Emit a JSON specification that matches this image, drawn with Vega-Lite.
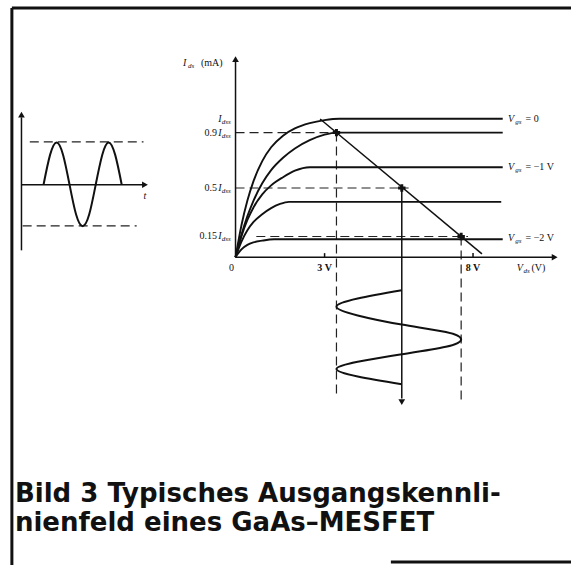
{
  "$schema": "https://vega.github.io/schema/vega-lite/v6.json",
  "description": "Output characteristics of a GaAs MESFET: I_ds over V_ds for several gate voltages, with load line, operating points, gate input signal and resulting drain voltage swing.",
  "width": 577,
  "height": 571,
  "autosize": {"type": "fit", "contains": "padding"},
  "padding": 0,
  "background": "#ffffff",
  "config": {"view": {"stroke": null}},
  "datasets": {
    "frame": [
      {"s": "top", "i": 0, "x": -7.533, "y": 1.8},
      {"s": "top", "i": 1, "x": 11.3, "y": 1.8},
      {"s": "left", "i": 0, "x": -7.533, "y": 1.8},
      {"s": "left", "i": 1, "x": -7.533, "y": -2.2214},
      {"s": "foot", "i": 0, "x": 5.233, "y": -2.2},
      {"s": "foot", "i": 1, "x": 11.3, "y": -2.2}
    ],
    "axes": [
      {"s": "t-axis-v", "i": 0, "x": -7.21, "y": 0.05},
      {"s": "t-axis-v", "i": 1, "x": -7.21, "y": 1.01},
      {"s": "t-axis-h", "i": 0, "x": -7.21, "y": 0.5236},
      {"s": "t-axis-h", "i": 1, "x": -3.1, "y": 0.5236},
      {"s": "id-axis", "i": 0, "x": 0, "y": 0},
      {"s": "id-axis", "i": 1, "x": 0, "y": 1.41},
      {"s": "vd-axis", "i": 0, "x": 0, "y": 0},
      {"s": "vd-axis", "i": 1, "x": 10.7, "y": 0},
      {"s": "tick3", "i": 0, "x": 3, "y": 0},
      {"s": "tick3", "i": 1, "x": 3, "y": 0.03},
      {"s": "tick8", "i": 0, "x": 8, "y": 0},
      {"s": "tick8", "i": 1, "x": 8, "y": 0.03},
      {"s": "load", "i": 0, "x": 2.85, "y": 0.998},
      {"s": "load", "i": 1, "x": 8.3, "y": 0.025},
      {"s": "bias", "i": 0, "x": 5.6, "y": 0.5},
      {"s": "bias", "i": 1, "x": 5.6, "y": -1.02}
    ],
    "arrows": [
      {"x": -7.21, "y": 1.03, "dir": "up"},
      {"x": -3.05, "y": 0.5236, "dir": "right"},
      {"x": 0, "y": 1.43, "dir": "up"},
      {"x": 10.75, "y": 0, "dir": "right"},
      {"x": 5.6, "y": -1.045, "dir": "down"}
    ],
    "characteristics": [
      {"s": "A", "x": 0, "y": 0}, {"s": "A", "x": 0.2, "y": 0.231}, {"s": "A", "x": 0.4, "y": 0.409},
      {"s": "A", "x": 0.6, "y": 0.546}, {"s": "A", "x": 0.9, "y": 0.694}, {"s": "A", "x": 1.2, "y": 0.794},
      {"s": "A", "x": 1.6, "y": 0.878}, {"s": "A", "x": 2.0, "y": 0.93}, {"s": "A", "x": 2.5, "y": 0.968},
      {"s": "A", "x": 3.0, "y": 0.99}, {"s": "A", "x": 3.5, "y": 1.0}, {"s": "A", "x": 9.0, "y": 1.0},
      {"s": "B", "x": 0, "y": 0}, {"s": "B", "x": 0.2, "y": 0.163}, {"s": "B", "x": 0.4, "y": 0.297},
      {"s": "B", "x": 0.6, "y": 0.406}, {"s": "B", "x": 0.9, "y": 0.534}, {"s": "B", "x": 1.2, "y": 0.629},
      {"s": "B", "x": 1.6, "y": 0.718}, {"s": "B", "x": 2.0, "y": 0.785}, {"s": "B", "x": 2.5, "y": 0.845},
      {"s": "B", "x": 3.0, "y": 0.885}, {"s": "B", "x": 3.4, "y": 0.9}, {"s": "B", "x": 9.0, "y": 0.9},
      {"s": "C", "x": 0, "y": 0}, {"s": "C", "x": 0.2, "y": 0.152}, {"s": "C", "x": 0.4, "y": 0.269},
      {"s": "C", "x": 0.6, "y": 0.358}, {"s": "C", "x": 0.9, "y": 0.454}, {"s": "C", "x": 1.2, "y": 0.519},
      {"s": "C", "x": 1.6, "y": 0.578}, {"s": "C", "x": 2.0, "y": 0.625}, {"s": "C", "x": 2.5, "y": 0.65},
      {"s": "C", "x": 9.0, "y": 0.65},
      {"s": "D", "x": 0, "y": 0}, {"s": "D", "x": 0.2, "y": 0.113}, {"s": "D", "x": 0.4, "y": 0.195},
      {"s": "D", "x": 0.6, "y": 0.253}, {"s": "D", "x": 0.9, "y": 0.311}, {"s": "D", "x": 1.2, "y": 0.355},
      {"s": "D", "x": 1.5, "y": 0.385}, {"s": "D", "x": 1.8, "y": 0.4}, {"s": "D", "x": 8.95, "y": 0.4},
      {"s": "E", "x": 0, "y": 0}, {"s": "E", "x": 0.1, "y": 0.032}, {"s": "E", "x": 0.2, "y": 0.057},
      {"s": "E", "x": 0.4, "y": 0.089}, {"s": "E", "x": 0.6, "y": 0.107}, {"s": "E", "x": 0.9, "y": 0.12},
      {"s": "E", "x": 1.3, "y": 0.13}, {"s": "E", "x": 9.0, "y": 0.13}
    ],
    "guides": [
      {"s": "g09", "i": 0, "x": 0, "y": 0.9}, {"s": "g09", "i": 1, "x": 3.4, "y": 0.9},
      {"s": "g05", "i": 0, "x": 0, "y": 0.5}, {"s": "g05", "i": 1, "x": 5.83, "y": 0.5},
      {"s": "g015", "i": 0, "x": 0.7, "y": 0.15}, {"s": "g015", "i": 1, "x": 7.83, "y": 0.15},
      {"s": "v1", "i": 0, "x": 3.4, "y": 0.9}, {"s": "v1", "i": 1, "x": 3.4, "y": -1.0},
      {"s": "v3", "i": 0, "x": 7.6, "y": 0.15}, {"s": "v3", "i": 1, "x": 7.6, "y": -1.04},
      {"s": "peak", "i": 0, "x": -6.93, "y": 0.8336}, {"s": "peak", "i": 1, "x": -3.1, "y": 0.8336},
      {"s": "trough", "i": 0, "x": -7.17, "y": 0.2264}, {"s": "trough", "i": 1, "x": -3.33, "y": 0.2264}
    ],
    "signals": [
      {"s": "in", "i": 1, "x": -6.467, "y": 0.5236},
      {"s": "in", "i": 2, "x": -6.247, "y": 0.739},
      {"s": "in", "i": 3, "x": -6.027, "y": 0.829},
      {"s": "in", "i": 4, "x": -5.808, "y": 0.739},
      {"s": "in", "i": 5, "x": -5.59, "y": 0.5236},
      {"s": "in", "i": 6, "x": -5.37, "y": 0.308},
      {"s": "in", "i": 7, "x": -5.15, "y": 0.224},
      {"s": "in", "i": 8, "x": -4.93, "y": 0.308},
      {"s": "in", "i": 9, "x": -4.71, "y": 0.5236},
      {"s": "in", "i": 10, "x": -4.49, "y": 0.739},
      {"s": "in", "i": 11, "x": -4.273, "y": 0.829},
      {"s": "in", "i": 12, "x": -4.053, "y": 0.739},
      {"s": "in", "i": 13, "x": -3.833, "y": 0.5236},
      {"s": "out", "i": 1, "x": 5.6, "y": -0.238},
      {"s": "out", "i": 2, "x": 4.115, "y": -0.298},
      {"s": "out", "i": 3, "x": 3.4, "y": -0.357},
      {"s": "out", "i": 4, "x": 4.115, "y": -0.42},
      {"s": "out", "i": 5, "x": 5.6, "y": -0.486},
      {"s": "out", "i": 6, "x": 7.085, "y": -0.54},
      {"s": "out", "i": 7, "x": 7.6, "y": -0.593},
      {"s": "out", "i": 8, "x": 7.085, "y": -0.646},
      {"s": "out", "i": 9, "x": 5.6, "y": -0.7},
      {"s": "out", "i": 10, "x": 4.115, "y": -0.754},
      {"s": "out", "i": 11, "x": 3.4, "y": -0.807},
      {"s": "out", "i": 12, "x": 4.115, "y": -0.861},
      {"s": "out", "i": 13, "x": 5.6, "y": -0.916}
    ],
    "operating": [
      {"x": 3.4, "y": 0.9},
      {"x": 5.6, "y": 0.5},
      {"x": 7.6, "y": 0.15}
    ],
    "numbers": [
      {"x": -0.62, "y": 0.9, "text": "0.9"},
      {"x": -0.62, "y": 0.5, "text": "0.5"},
      {"x": -0.62, "y": 0.15, "text": "0.15"},
      {"x": -0.05, "y": -0.075, "text": "0"}
    ],
    "symbols": [
      {"x": -0.58, "y": 1.0, "text": "I"},
      {"x": -0.58, "y": 0.9, "text": "I"},
      {"x": -0.58, "y": 0.5, "text": "I"},
      {"x": -0.58, "y": 0.15, "text": "I"},
      {"x": -1.767, "y": 1.405, "text": "I"},
      {"x": 9.18, "y": 1.0, "text": "V"},
      {"x": 9.18, "y": 0.65, "text": "V"},
      {"x": 9.18, "y": 0.14, "text": "V"},
      {"x": 9.47, "y": -0.075, "text": "V"},
      {"x": -3.1, "y": 0.443, "text": "t"}
    ],
    "subs": [
      {"x": -0.46, "y": 1.0, "text": "dss"},
      {"x": -0.46, "y": 0.9, "text": "dss"},
      {"x": -0.46, "y": 0.5, "text": "dss"},
      {"x": -0.46, "y": 0.15, "text": "dss"},
      {"x": -1.6, "y": 1.405, "text": "ds"},
      {"x": 9.42, "y": 1.0, "text": "gs"},
      {"x": 9.42, "y": 0.65, "text": "gs"},
      {"x": 9.42, "y": 0.14, "text": "gs"},
      {"x": 9.7, "y": -0.075, "text": "ds"}
    ],
    "plain": [
      {"x": 9.77, "y": 1.0, "text": "= 0"},
      {"x": 9.77, "y": 0.65, "text": "= −1 V"},
      {"x": 9.77, "y": 0.14, "text": "= −2 V"},
      {"x": -1.167, "y": 1.405, "text": "(mA)"},
      {"x": 9.97, "y": -0.075, "text": "(V)"}
    ],
    "ticks": [
      {"x": 3, "y": -0.075, "text": "3 V"},
      {"x": 8, "y": -0.075, "text": "8 V"}
    ],
    "caption": [
      {"x": -7.43, "y": -1.764, "text": "Bild 3 Typisches Ausgangskennli-"},
      {"x": -7.43, "y": -1.979, "text": "nienfeld eines GaAs–MESFET"}
    ]
  },
  "encoding": {
    "x": {"field": "x", "type": "quantitative", "scale": {"domain": [-7.9333, 11.3], "nice": false, "zero": false}, "axis": null},
    "y": {"field": "y", "type": "quantitative", "scale": {"domain": [-2.2214, 1.8571], "nice": false, "zero": false}, "axis": null}
  },
  "layer": [
    {
      "data": {"name": "frame"},
      "mark": {"type": "line", "color": "#111111", "strokeWidth": 3},
      "encoding": {"detail": {"field": "s"}, "order": {"field": "i", "type": "quantitative"}}
    },
    {
      "data": {"name": "guides"},
      "mark": {"type": "line", "color": "#222222", "strokeWidth": 1.2, "strokeDash": [9, 5]},
      "encoding": {"detail": {"field": "s"}, "order": {"field": "i", "type": "quantitative"}}
    },
    {
      "data": {"name": "axes"},
      "mark": {"type": "line", "color": "#111111", "strokeWidth": 1.5},
      "encoding": {"detail": {"field": "s"}, "order": {"field": "i", "type": "quantitative"}}
    },
    {
      "data": {"name": "characteristics"},
      "mark": {"type": "line", "color": "#111111", "strokeWidth": 1.9, "interpolate": "monotone"},
      "encoding": {"detail": {"field": "s"}}
    },
    {
      "data": {"name": "signals"},
      "mark": {"type": "line", "color": "#111111", "strokeWidth": 2, "interpolate": "natural"},
      "encoding": {"detail": {"field": "s"}, "order": {"field": "i", "type": "quantitative"}}
    },
    {
      "data": {"name": "arrows"},
      "mark": {"type": "point", "filled": true, "color": "#111111", "size": 45, "opacity": 1},
      "encoding": {
        "shape": {"field": "dir", "type": "nominal", "legend": null,
          "scale": {"domain": ["up", "right", "down"], "range": ["triangle-up", "triangle-right", "triangle-down"]}}
      }
    },
    {
      "data": {"name": "operating"},
      "mark": {"type": "point", "shape": "cross", "filled": true, "color": "#111111", "size": 55, "opacity": 1},
      "encoding": {}
    },
    {
      "data": {"name": "numbers"},
      "mark": {"type": "text", "font": "Liberation Serif", "fontSize": 10, "align": "right", "baseline": "middle", "color": "#111111"},
      "encoding": {"text": {"field": "text"}}
    },
    {
      "data": {"name": "symbols"},
      "mark": {"type": "text", "font": "Liberation Serif", "fontSize": 10, "fontStyle": "italic", "align": "left", "baseline": "middle", "color": "#111111"},
      "encoding": {"text": {"field": "text"}}
    },
    {
      "data": {"name": "subs"},
      "mark": {"type": "text", "font": "Liberation Serif", "fontSize": 7, "fontStyle": "italic", "align": "left", "baseline": "middle", "dy": 3, "color": "#111111"},
      "encoding": {"text": {"field": "text"}}
    },
    {
      "data": {"name": "plain"},
      "mark": {"type": "text", "font": "Liberation Serif", "fontSize": 10, "align": "left", "baseline": "middle", "color": "#111111"},
      "encoding": {"text": {"field": "text"}}
    },
    {
      "data": {"name": "ticks"},
      "mark": {"type": "text", "font": "Liberation Serif", "fontSize": 10, "fontWeight": "bold", "align": "center", "baseline": "middle", "color": "#111111"},
      "encoding": {"text": {"field": "text"}}
    },
    {
      "data": {"name": "caption"},
      "mark": {"type": "text", "font": "DejaVu Sans", "fontSize": 26, "fontWeight": "bold", "align": "left", "baseline": "alphabetic", "color": "#111111"},
      "encoding": {"text": {"field": "text"}}
    }
  ]
}
